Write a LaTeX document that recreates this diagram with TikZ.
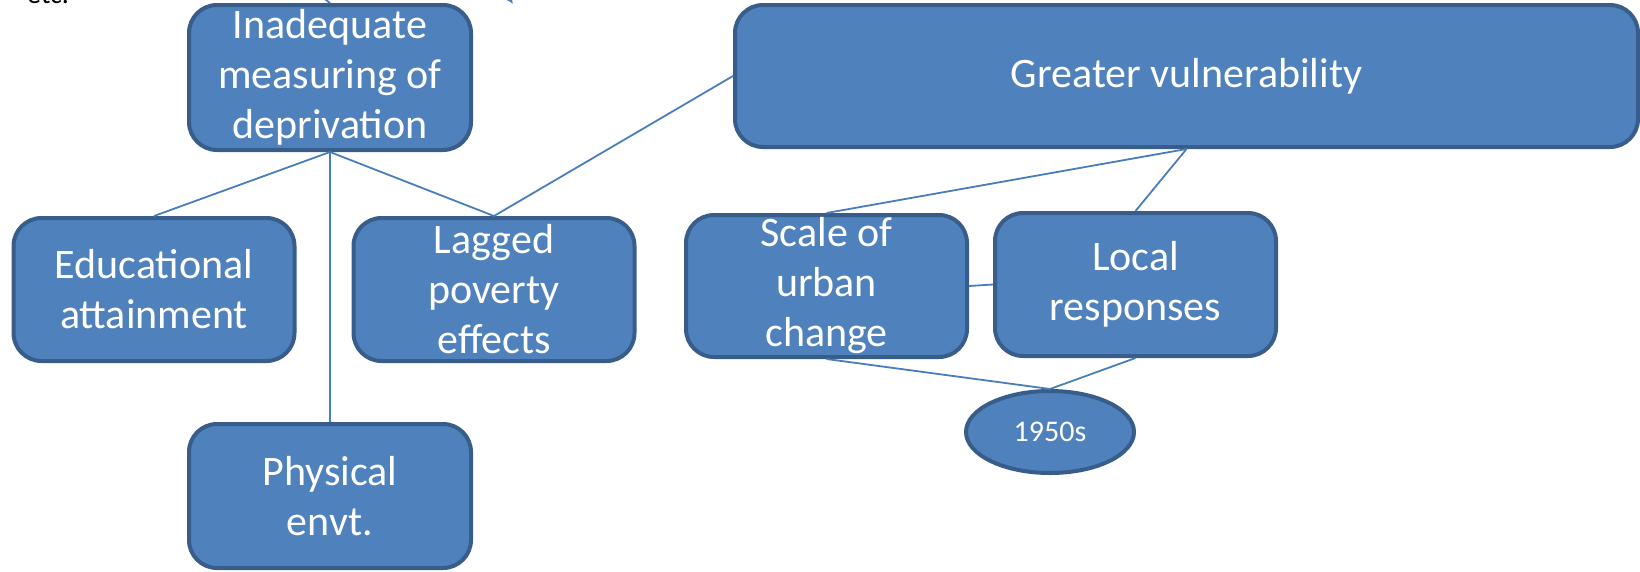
\documentclass[tikz,border=0pt]{standalone}
\usepackage{fontspec}
\setmainfont{Carlito}
\usetikzlibrary{shapes.geometric,arrows.meta}
\definecolor{boxfill}{HTML}{4F81BD}
\definecolor{boxedge}{HTML}{385D8A}
\definecolor{linecol}{HTML}{4A7EBB}
\begin{document}
\begin{tikzpicture}[x=1pt,y=-1pt,
  box/.style={draw=boxedge,fill=boxfill,line width=4pt,rounded corners=28pt,inner sep=0pt,
    minimum width=281pt,minimum height=143pt},
  lbl/.style={text=white,align=center,font=\fontsize{42}{50}\selectfont,inner sep=0pt},
  oval/.style={ellipse,draw=boxedge,fill=boxfill,line width=4pt,inner sep=0pt,
    minimum width=168pt,minimum height=82pt,text=white,font=\fontsize{30}{36}\selectfont},
  conn/.style={draw=linecol,line width=1.8pt},
  small/.style={text=black,font=\fontsize{28}{32}\selectfont,inner sep=0pt}]
\useasboundingbox (0,0) rectangle (1640,571);
\node[small,anchor=base west] (etc) at (27,3) {etc.};
\coordinate (topc) at (313,-10);
\coordinate (arrtop) at (500,-16);
\coordinate (arrtip) at (513,4);
\node[box,minimum width=282pt,minimum height=145pt,label={[lbl]center:{Inadequate\\measuring of\\deprivation}}] (inad) at (330,77.5) {};
\node[box,minimum width=903pt,minimum height=142pt,label={[lbl]center:{Greater vulnerability}}] (greater) at (1186.5,76) {};
\node[box,label={[lbl]center:{Educational\\attainment}}] (edu) at (154,289.5) {};
\node[box,label={[lbl]center:{Lagged\\poverty\\effects}}] (lag) at (494,289.5) {};
\node[box,minimum width=282pt,minimum height=144pt,label={[lbl]center:{Physical\\envt.}}] (phys) at (330,496) {};
\node[box,minimum height=142pt,label={[lbl]center:{Scale of\\urban\\change}}] (scale) at (826.5,286) {};
\node[box,label={[lbl]center:{Local\\responses}}] (local) at (1135.5,284.5) {};
\node[oval] (fifties) at (1050,432) {1950s};
\draw[conn] (topc) -- (inad.north);
\draw[conn,-{Latex[length=7pt,width=7pt]}] (arrtop) -- (arrtip);
\draw[conn] (inad.south) -- (edu.north);
\draw[conn] (inad.south) -- (lag.north);
\draw[conn] (inad.south) -- (phys.north);
\draw[conn] (lag.north) -- (greater.west);
\draw[conn] (greater.south) -- (scale.north);
\draw[conn] (greater.south) -- (local.north);
\draw[conn] (scale.east) -- (local.west);
\draw[conn] (scale.south) -- (fifties.north);
\draw[conn] (local.south) -- (fifties.north);
\end{tikzpicture}
\end{document}
